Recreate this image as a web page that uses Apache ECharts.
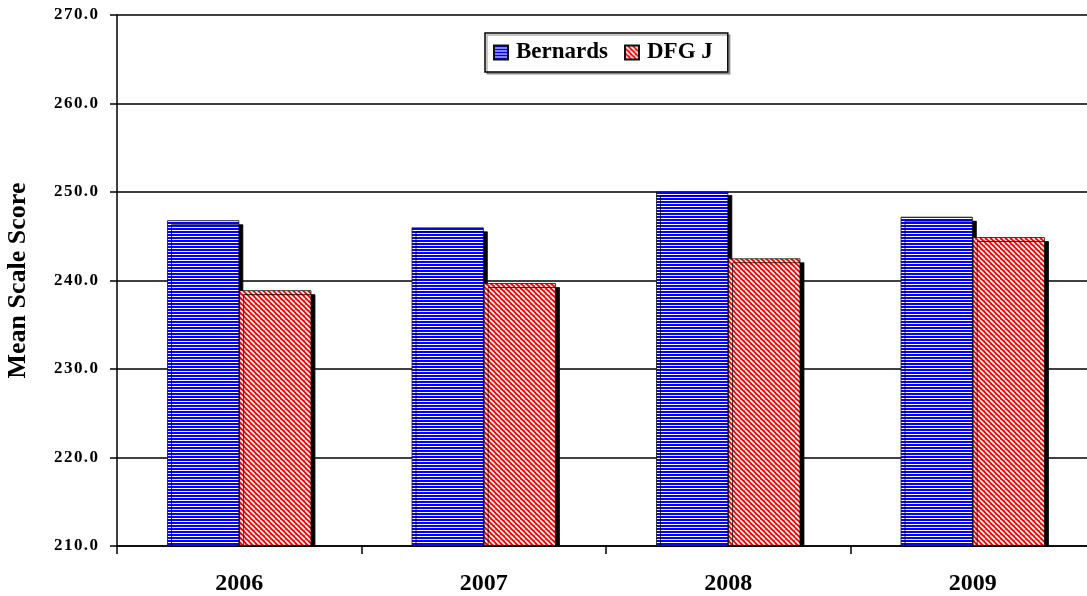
<!DOCTYPE html>
<html>
<head>
<meta charset="utf-8">
<script src="https://cdn.jsdelivr.net/npm/echarts@6/dist/echarts.min.js"></script>
<style>
  html, body { margin: 0; padding: 0; background: #fff; }
  #chart { width: 1087px; height: 596px; }
</style>
</head>
<body>
<div id="chart"></div>
<script>
const years = ['2006', '2007', '2008', '2009'];
const bernards = [246.8, 246.0, 250.1, 247.2];
const dfgJ = [238.9, 239.7, 242.5, 244.9];

// horizontal white stripes on blue
function stripePattern() {
  const c = document.createElement('canvas');
  c.width = 4; c.height = 3;
  const ctx = c.getContext('2d');
  ctx.fillStyle = '#0000ff';
  ctx.fillRect(0, 0, 4, 3);
  ctx.fillStyle = '#ffffff';
  ctx.fillRect(0, 2, 4, 1);
  return c;
}

// diagonal white hatching on red, top-left to bottom-right
function hatchPattern() {
  const s = 5;
  const c = document.createElement('canvas');
  c.width = s; c.height = s;
  const ctx = c.getContext('2d');
  ctx.fillStyle = '#ff0000';
  ctx.fillRect(0, 0, s, s);
  ctx.strokeStyle = '#ffffff';
  ctx.lineWidth = 1.6;
  for (let k = -1; k <= 1; k++) {
    ctx.beginPath();
    ctx.moveTo(k * s, 0);
    ctx.lineTo(k * s + s, s);
    ctx.stroke();
  }
  return c;
}

const font = '"Liberation Serif", "Times New Roman", serif';
const chart = echarts.init(document.getElementById('chart'), null, { renderer: 'canvas' });

const shadow = { shadowColor: '#000', shadowBlur: 0, shadowOffsetX: 4, shadowOffsetY: 4 };
const gridLeft = 117, gridTop = 15, gridW = 978, gridH = 531;

chart.setOption({
  animation: false,
  backgroundColor: '#fff',
  grid: { left: gridLeft, top: gridTop, width: gridW, height: gridH, outerBoundsMode: 'none' },
  legend: {
    top: 33,
    left: 485,
    padding: [8, 15, 8, 8],
    itemGap: 16,
    itemWidth: 14,
    itemHeight: 14,
    icon: 'rect',
    borderColor: '#000',
    borderWidth: 1.5,
    backgroundColor: '#fff',
    shadowColor: 'rgba(0,0,0,0.3)',
    shadowOffsetX: 2,
    shadowOffsetY: 2,
    shadowBlur: 0,
    textStyle: { fontFamily: font, fontWeight: 'bold', fontSize: 23, lineHeight: 22, color: '#000', padding: [0, 0, 0, 3] },
    data: ['Bernards', 'DFG J']
  },
  xAxis: {
    type: 'category',
    data: years,
    z: 10,
    axisLine: { lineStyle: { color: '#000', width: 1.5 } },
    axisTick: { show: true, length: 8, lineStyle: { color: '#000', width: 1.5 } },
    axisLabel: { fontFamily: font, fontWeight: 'bold', fontSize: 24, color: '#000', margin: 26 }
  },
  yAxis: {
    type: 'value',
    min: 210,
    max: 270,
    interval: 10,
    name: 'Mean Scale Score',
    nameLocation: 'middle',
    nameGap: 86,
    nameTextStyle: { fontFamily: font, fontWeight: 'bold', fontSize: 26, color: '#000' },
    axisLine: { show: true, lineStyle: { color: '#000', width: 1.5 } },
    axisTick: { show: true, length: 7, lineStyle: { color: '#000', width: 1.5 } },
    splitLine: { lineStyle: { color: '#000', width: 1.5 } },
    axisLabel: {
      fontFamily: font, fontWeight: 'bold', fontSize: 17, color: '#000', margin: 19,
      formatter: v => v.toFixed(1).split('').join('\u200A')
    }
  },
  // white strip hiding the drop shadow below the x axis
  graphic: [{
    type: 'rect',
    z: 5,
    shape: { x: gridLeft + 1, y: gridTop + gridH + 1, width: gridW, height: 8 },
    style: { fill: '#fff' }
  }],
  series: [
    {
      name: 'Bernards',
      type: 'bar',
      data: bernards,
      barWidth: '29.5%',
      barGap: '0%',
      itemStyle: Object.assign({ color: { image: stripePattern(), repeat: 'repeat' }, borderColor: '#111', borderWidth: 0.8 }, shadow)
    },
    {
      name: 'DFG J',
      type: 'bar',
      data: dfgJ,
      barWidth: '29.5%',
      itemStyle: Object.assign({ color: { image: hatchPattern(), repeat: 'repeat' }, borderColor: '#111', borderWidth: 0.8 }, shadow)
    }
  ]
});
</script>
</body>
</html>
